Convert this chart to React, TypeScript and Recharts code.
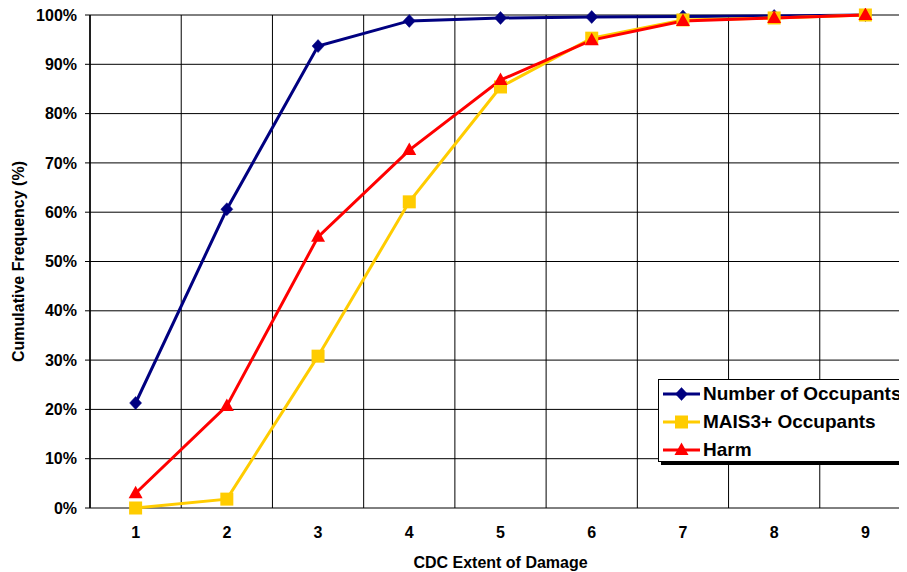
import React from 'react';
import { LineChart, Line, XAxis, YAxis, CartesianGrid, Legend, Label } from 'recharts';

const categories = [1, 2, 3, 4, 5, 6, 7, 8, 9];
const occupants = [21.3, 60.6, 93.7, 98.8, 99.4, 99.6, 99.7, 99.8, 100];
const mais3 = [0, 1.8, 30.8, 62.1, 85.4, 95.3, 99.0, 99.4, 100];
const harm = [3.0, 20.7, 55.0, 72.6, 86.8, 94.9, 98.8, 99.4, 100];
const yTicks = [0, 10, 20, 30, 40, 50, 60, 70, 80, 90, 100];
const boundaryTicks = [0.5, 1.5, 2.5, 3.5, 4.5, 5.5, 6.5, 7.5, 8.5, 9.5];
const seriesKeys = ['occupants', 'mais3', 'harm'];
const seriesNames = ['Number of Occupants', 'MAIS3+ Occupants', 'Harm'];

const NAVY = '#000080';
const GOLD = '#FFCC00';
const RED = '#FF0000';
const FONT = '"Liberation Sans", Arial, sans-serif';

const data = categories.map((c, i) => ({
  cdc: c,
  occupants: occupants[i],
  mais3: mais3[i],
  harm: harm[i],
}));

type Shape = 'diamond' | 'square' | 'triangle';

function marker(shape: Shape, cx: number, cy: number, color: string, key?: any) {
  if (shape === 'diamond') {
    return (
      <polygon key={key} points={`${cx},${cy - 6.5} ${cx + 6},${cy} ${cx},${cy + 6.5} ${cx - 6},${cy}`} fill={color} stroke={color} strokeWidth={0.5} />
    );
  }
  if (shape === 'square') {
    return <rect key={key} x={cx - 6.5} y={cy - 6.5} width={13} height={13} fill={color} />;
  }
  return (
    <polygon key={key} points={`${cx},${cy - 7.5} ${cx + 7},${cy + 5} ${cx - 7},${cy + 5}`} fill={color} />
  );
}

const makeDot = (shape: Shape, color: string) => (props: any) => {
  const { cx, cy, index } = props;
  if (cx == null || cy == null) return <g key={`e-${index}`} />;
  return marker(shape, cx, cy, color, `${shape}-${index}`);
};

const legendShapes: Record<string, { shape: Shape; color: string }> = {
  occupants: { shape: 'diamond', color: NAVY },
  mais3: { shape: 'square', color: GOLD },
  harm: { shape: 'triangle', color: RED },
};

const renderLegend = (props: any) => {
  const payload = [...(props.payload || [])].sort(
    (a: any, b: any) => seriesKeys.indexOf(a.dataKey) - seriesKeys.indexOf(b.dataKey)
  );
  return (
    <div
      style={{
        boxSizing: 'border-box',
        width: 300,
        height: 83,
        border: '1px solid #000',
        background: '#fff',
        boxShadow: '3px 3px 0 #000',
        fontFamily: FONT,
        fontWeight: 'bold',
        fontSize: 19,
        color: '#000',
      }}
    >
      {payload.map((entry: any, i: number) => {
        const info = legendShapes[entry.dataKey] || legendShapes.occupants;
        return (
          <div key={i} style={{ display: 'flex', alignItems: 'center', height: 28, paddingLeft: 4 }}>
            <svg width={37} height={28} style={{ display: 'block' }}>
              <line x1={0} y1={14} x2={37} y2={14} stroke={info.color} strokeWidth={3} />
              {marker(info.shape, 18.5, 14, info.color)}
            </svg>
            <span style={{ marginLeft: 3, whiteSpace: 'nowrap', lineHeight: '28px' }}>{entry.value}</span>
          </div>
        );
      })}
    </div>
  );
};

const tickStyle = { fontFamily: FONT, fontWeight: 'bold', fontSize: 16, fill: '#000' };

export default function App() {
  return (
    <div style={{ width: 899, height: 564, overflow: 'hidden' }}>
      <LineChart
        width={905}
        height={564}
        data={data}
        margin={{ top: 7, right: 2, bottom: 0, left: 0 }}
        style={{ fontFamily: FONT }}
      >
        <CartesianGrid stroke="#000" strokeWidth={1} horizontal vertical xAxisId={0} />
        <XAxis
          xAxisId={0}
          dataKey="cdc"
          type="number"
          domain={[0.5, 9.5]}
          ticks={boundaryTicks}
          tickFormatter={() => ''}
          tickSize={5}
          height={0}
          axisLine={{ stroke: '#000', strokeWidth: 1.5 }}
          tickLine={{ stroke: '#000' }}
          allowDecimals
        />
        <XAxis
          xAxisId="lab"
          dataKey="cdc"
          type="number"
          domain={[0.5, 9.5]}
          ticks={categories}
          tickSize={6}
          tickMargin={13}
          tickLine={false}
          axisLine={false}
          height={64}
          tick={tickStyle}
        >
          <Label
            value="CDC Extent of Damage"
            position="insideBottom"
            offset={4}
            style={{ fontFamily: FONT, fontWeight: 'bold', fontSize: 16, fill: '#000' }}
          />
        </XAxis>
        <YAxis
          domain={[0, 100]}
          ticks={yTicks}
          tickFormatter={(v: number) => `${v}%`}
          width={82}
          tickSize={5}
          tickMargin={8}
          axisLine={{ stroke: '#000', strokeWidth: 1.5 }}
          tickLine={{ stroke: '#000' }}
          tick={tickStyle}
          interval={0}
        >
          <Label
            value="Cumulative Frequency (%)"
            angle={-90}
            position="insideLeft"
            offset={10}
            style={{ fontFamily: FONT, fontWeight: 'bold', fontSize: 16, fill: '#000', textAnchor: 'middle' }}
          />
        </YAxis>
        <Legend
          content={renderLegend}
          layout="vertical"
          align="center"
          verticalAlign="middle"
          itemSorter={null as any}
          wrapperStyle={{ position: 'absolute', left: 650, top: 371, width: 300 }}
        />
        <Line
          xAxisId={0}
          type="linear"
          dataKey="occupants"
          name={seriesNames[0]}
          stroke={NAVY}
          strokeWidth={3}
          dot={makeDot('diamond', NAVY)}
          activeDot={false}
          isAnimationActive={false}
        />
        <Line
          xAxisId={0}
          type="linear"
          dataKey="mais3"
          name={seriesNames[1]}
          stroke={GOLD}
          strokeWidth={3}
          dot={makeDot('square', GOLD)}
          activeDot={false}
          isAnimationActive={false}
        />
        <Line
          xAxisId={0}
          type="linear"
          dataKey="harm"
          name={seriesNames[2]}
          stroke={RED}
          strokeWidth={3}
          dot={makeDot('triangle', RED)}
          activeDot={false}
          isAnimationActive={false}
        />
      </LineChart>
    </div>
  );
}
